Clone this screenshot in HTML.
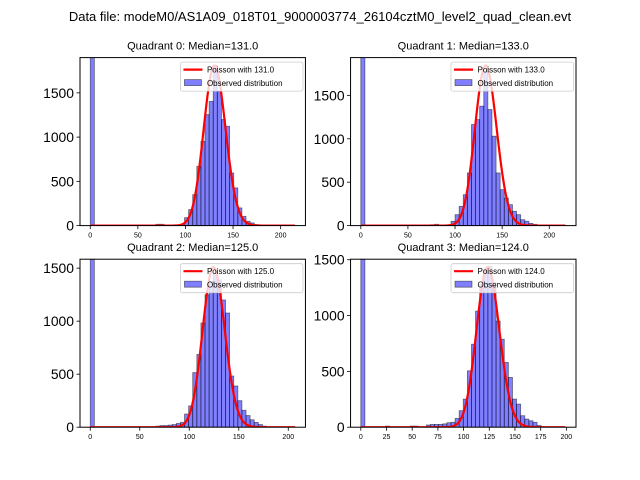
<!DOCTYPE html>
<html><head><meta charset="utf-8"><style>
html,body{margin:0;padding:0;background:#fff;}
svg{display:block;font-family:"Liberation Sans","DejaVu Sans",sans-serif;}
</style></head><body>
<svg id="fig" width="640" height="480" viewBox="0 0 640 480">
<rect width="640" height="480" fill="#fff"/>
<text x="320" y="21" font-size="13" text-anchor="middle" fill="#000">Data file: modeM0/AS1A09_018T01_9000003774_26104cztM0_level2_quad_clean.evt</text>
</svg>
<script>
// ---- data ----
const quadrantNames = ["Quadrant 0","Quadrant 1","Quadrant 2","Quadrant 3"];
const medians = [131.0, 133.0, 125.0, 124.0];
const dataMax = [215.3, 217.5, 207, 199.4];
const poissonPeaks = [1808, 1843, 1509, 1433];
const counts0 = [20000,0,0,0,0,0,0,0,0,0,0,0,0,0,0,0,15,15,0,0,0,0,5,90,181,350,670,952,1254,1404,1810,1517,1198,1122,595,426,200,105,49,30,12,5,0,0,0,0,0,0,0,0];
const counts1 = [20000,0,0,0,0,0,0,0,0,0,0,0,0,0,0,0,8,10,15,0,0,5,50,126,222,356,607,1164,1221,1376,1780,1337,1030,607,414,318,241,165,126,68,50,25,15,5,0,0,0,0,0,3];
const counts2 = [20000,0,0,0,0,0,0,0,0,0,0,0,0,0,0,0,10,15,15,20,25,35,46,124,201,515,686,983,1250,1373,1452,1389,1200,1077,483,389,250,160,110,70,45,25,10,0,0,0,0,0,0,0];
const counts3 = [20000,0,0,0,0,0,10,0,0,0,0,0,10,10,0,0,20,25,25,25,30,40,44,79,148,252,505,743,1040,1279,1412,1442,1294,951,788,580,446,252,207,103,73,58,44,15,5,0,0,0,0,0];
const allCounts = [counts0, counts1, counts2, counts3];
const xTicks = [[0,50,100,150,200],[0,50,100,150,200],[0,50,100,150,200],[0,25,50,75,100,125,150,175,200]];
const yTicks = [[0,500,1000,1500],[0,500,1000,1500],[0,500,1000,1500],[0,500,1000,1500]];
// ---- layout ----
const NS="http://www.w3.org/2000/svg";
const svg=document.getElementById('fig');
function mk(tag,attrs,parent){const e=document.createElementNS(NS,tag);for(const k in attrs)e.setAttribute(k,attrs[k]);(parent||svg).appendChild(e);return e;}
const axW=225.45, axH=168;
const lefts=[80,350.55,80,350.55], tops=[57.6,57.6,259.2,259.2];
function logFact(n){let s=0;for(let i=2;i<=n;i++)s+=Math.log(i);return s;}
function pmf(k,l){return Math.exp(k*Math.log(l)-l-logFact(k));}
for(let q=0;q<4;q++){
  const L=lefts[q],T=tops[q],B=T+axH,R=L+axW;
  const dmax=dataMax[q], pad=0.05*dmax, x0=-pad, x1=dmax+pad;
  const ymax=poissonPeaks[q]*1.05;
  const sx=v=>L+(v-x0)/(x1-x0)*axW;
  const sy=v=>B-v/ymax*axH;
  const g=mk('g',{});
  
  
  const clipId='clip'+q;
  const cp=mk('clipPath',{id:clipId},g);mk('rect',{x:L,y:T,width:axW,height:axH},cp);
  const plot=mk('g',{'clip-path':'url(#'+clipId+')'},g);
  const c=allCounts[q], n=c.length, w=dmax/n;
  for(let i=0;i<n;i++){
    if(c[i]<=0)continue;
    const xa=sx(i*w), xb=sx((i+1)*w), yt=sy(c[i]);
    const r=mk('rect',{x:xa,y:yt,width:xb-xa,height:B-yt,fill:'rgba(0,0,255,0.5)',stroke:'rgba(0,0,0,0.5)','stroke-width':0.8},plot);
    
    
  }
  const lam=medians[q];
  const mode=Math.floor(lam);
  const A=poissonPeaks[q]/pmf(mode,lam);
  let d='';
  for(let k=0;k<=Math.floor(dmax);k++){d+=(k?'L':'M')+sx(k).toFixed(2)+','+sy(A*pmf(k,lam)).toFixed(2);}
  const pl=mk('path',{d:d,fill:'none',stroke:'#ff0000','stroke-width':2.2,'stroke-linejoin':'round'},plot);
  
  
  mk('rect',{x:L,y:T,width:axW,height:axH,fill:'none',stroke:'#000','stroke-width':1},g);
  xTicks[q].forEach(t=>{
    const x=sx(t);
    mk('line',{x1:x,y1:B,x2:x,y2:B+3.5,stroke:'#000','stroke-width':0.8},g);
    const tx=mk('text',{x:x,y:B+12,'font-size':7,'text-anchor':'middle',fill:'#000'},g);
    tx.textContent=t;
    
    
  });
  yTicks[q].forEach(t=>{
    const y=sy(t);
    mk('line',{x1:L,y1:y,x2:L-3.5,y2:y,stroke:'#000','stroke-width':0.8},g);
    const tx=mk('text',{x:L-6,y:y+5,'font-size':13.9,'text-anchor':'end',fill:'#000'},g);
    tx.textContent=t;
    
    
  });
  const ti=mk('text',{x:L+axW/2,y:T-8,'font-size':11,'text-anchor':'middle',fill:'#000'},g);
  ti.textContent=quadrantNames[q]+': Median='+lam.toFixed(1);
  
  
  // legend
  const lg=mk('g',{},g);
  
  
  const lx=R-125, ly=T+4.5;
  mk('rect',{x:lx,y:ly,width:122.5,height:29,rx:2,fill:'rgba(255,255,255,0.8)',stroke:'#ccc','stroke-width':0.8},lg);
  mk('line',{x1:lx+3,y1:ly+7.5,x2:lx+22,y2:ly+7.5,stroke:'#ff0000','stroke-width':2.2},lg);
  const t1=mk('text',{x:lx+26.5,y:ly+10.5,'font-size':8,fill:'#000'},lg);
  t1.textContent='Poisson with '+lam.toFixed(1);
  
  
  mk('rect',{x:lx+4,y:ly+17.5,width:17,height:6,fill:'rgba(0,0,255,0.5)',stroke:'rgba(0,0,0,0.5)','stroke-width':0.8},lg);
  const t2=mk('text',{x:lx+26.5,y:ly+24,'font-size':8,fill:'#000'},lg);
  t2.textContent='Observed distribution';
  
  
}
</script>
</body></html>
